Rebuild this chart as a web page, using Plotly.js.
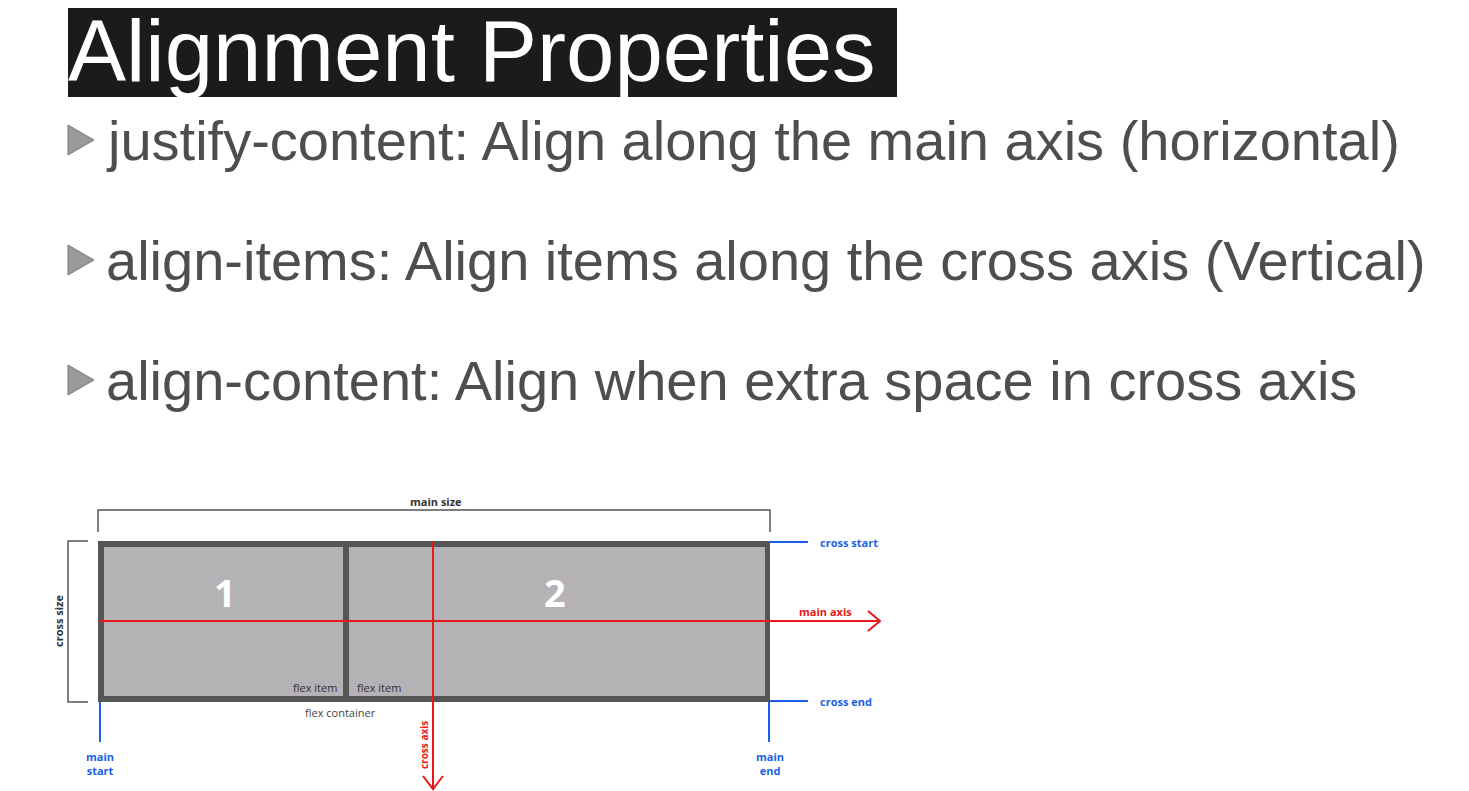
<!DOCTYPE html>
<html><head><meta charset="utf-8">
<script src="https://cdn.plot.ly/plotly-3.0.1.min.js"></script>
<style>html,body{margin:0;padding:0;background:#fff}</style>
</head><body><div id="c" style="width:1469px;height:791px"></div>
<script>
const titleText = "Alignment Properties";
const bullets = [
  "justify-content: Align along the main axis (horizontal)",
  "align-items: Align items along the cross axis (Vertical)",
  "align-content: Align when extra space in cross axis"
];
const itemLabels = ["1", "2"];
const blueLabels = ["cross start", "cross end", "main<br>start", "main<br>end"];

const bulletY = [140, 260, 380];
const shapes = [];
const ann = [];
const F = "Liberation Sans, Arial, sans-serif";
const D = "Open Sans, sans-serif";

shapes.push({type:"rect",x0:68,x1:897,y0:8,y1:97,fillcolor:"#1b1b1b",line:{width:0}});
ann.push({x:66,y:50,text:titleText,showarrow:false,xanchor:"left",yanchor:"middle",font:{family:F,size:87,color:"#fff"}});
bullets.forEach((t,i)=>{
  const y=bulletY[i];
  shapes.push({type:"path",path:`M68,${y-15} L94,${y} L68,${y+15} Z`,fillcolor:"#9a9a9a",line:{color:"#7a7a7a",width:1}});
  ann.push({x:104,y:y,text:t,showarrow:false,xanchor:"left",yanchor:"middle",font:{family:F,size:56,color:"#4e4e4e"}});
});

// flex container
shapes.push({type:"rect",x0:98,x1:770,y0:541,y1:702,fillcolor:"#555",line:{width:0}});
shapes.push({type:"rect",x0:104,x1:343,y0:547,y1:696,fillcolor:"#b4b2b5",line:{width:0}});
shapes.push({type:"rect",x0:349,x1:765,y0:547,y1:696,fillcolor:"#b4b2b5",line:{width:0}});
ann.push({x:225,y:592,text:"<b>"+itemLabels[0]+"</b>",showarrow:false,font:{family:D,size:38,color:"#fff"}});
ann.push({x:555,y:592,text:"<b>"+itemLabels[1]+"</b>",showarrow:false,font:{family:D,size:38,color:"#fff"}});
ann.push({x:339,y:687,text:"flex item",showarrow:false,xanchor:"right",font:{family:D,size:11,color:"#333"}});
ann.push({x:355,y:687,text:"flex item",showarrow:false,xanchor:"left",font:{family:D,size:11,color:"#333"}});
ann.push({x:340,y:712,text:"flex container",showarrow:false,font:{family:D,size:11,color:"#444"}});

// brackets
const g={color:"#555",width:1.5};
shapes.push({type:"path",path:"M98,532 L98,510 L770,510 L770,532",line:g});
ann.push({x:436,y:501,text:"<b>main size</b>",showarrow:false,font:{family:D,size:11,color:"#333"}});
shapes.push({type:"path",path:"M88,541 L68,541 L68,702 L88,702",line:g});
ann.push({x:58,y:621,text:"<b>cross size</b>",textangle:-90,showarrow:false,font:{family:D,size:11,color:"#333"}});

// red axes
const r={color:"#e81818",width:2};
shapes.push({type:"line",x0:100,x1:880,y0:621,y1:621,line:r});
shapes.push({type:"path",path:"M868,611 L880,621 L868,631",line:r});
ann.push({x:825,y:611,text:"<b>main axis</b>",showarrow:false,font:{family:D,size:11,color:"#e81818"}});
shapes.push({type:"line",x0:433,x1:433,y0:541,y1:789,line:r});
shapes.push({type:"path",path:"M423,776 L433,789 L443,776",line:r});
ann.push({x:424,y:745,text:"<b>cross axis</b>",textangle:-90,showarrow:false,font:{family:D,size:10,color:"#e81818"}});

// blue
const b={color:"#1a5fe8",width:2};
shapes.push({type:"line",x0:770,x1:808,y0:542,y1:542,line:b});
shapes.push({type:"line",x0:770,x1:808,y0:701,y1:701,line:b});
shapes.push({type:"line",x0:100,x1:100,y0:702,y1:742,line:b});
shapes.push({type:"line",x0:769,x1:769,y0:702,y1:742,line:b});
const bf={family:D,size:11,color:"#1a5fe8"};
ann.push({x:818,y:542,text:"<b>"+blueLabels[0]+"</b>",showarrow:false,xanchor:"left",font:bf});
ann.push({x:818,y:701,text:"<b>"+blueLabels[1]+"</b>",showarrow:false,xanchor:"left",font:bf});
ann.push({x:100,y:763,text:"<b>"+blueLabels[2]+"</b>",showarrow:false,font:bf});
ann.push({x:770,y:763,text:"<b>"+blueLabels[3]+"</b>",showarrow:false,font:bf});

Plotly.newPlot("c",[],{
  width:1469,height:791,margin:{l:0,r:0,t:0,b:0},
  paper_bgcolor:"#fff",plot_bgcolor:"#fff",
  xaxis:{range:[0,1469],visible:false,fixedrange:true},
  yaxis:{range:[791,0],visible:false,fixedrange:true},
  shapes:shapes,annotations:ann,showlegend:false
},{displayModeBar:false,staticPlot:true});
</script></body></html>
